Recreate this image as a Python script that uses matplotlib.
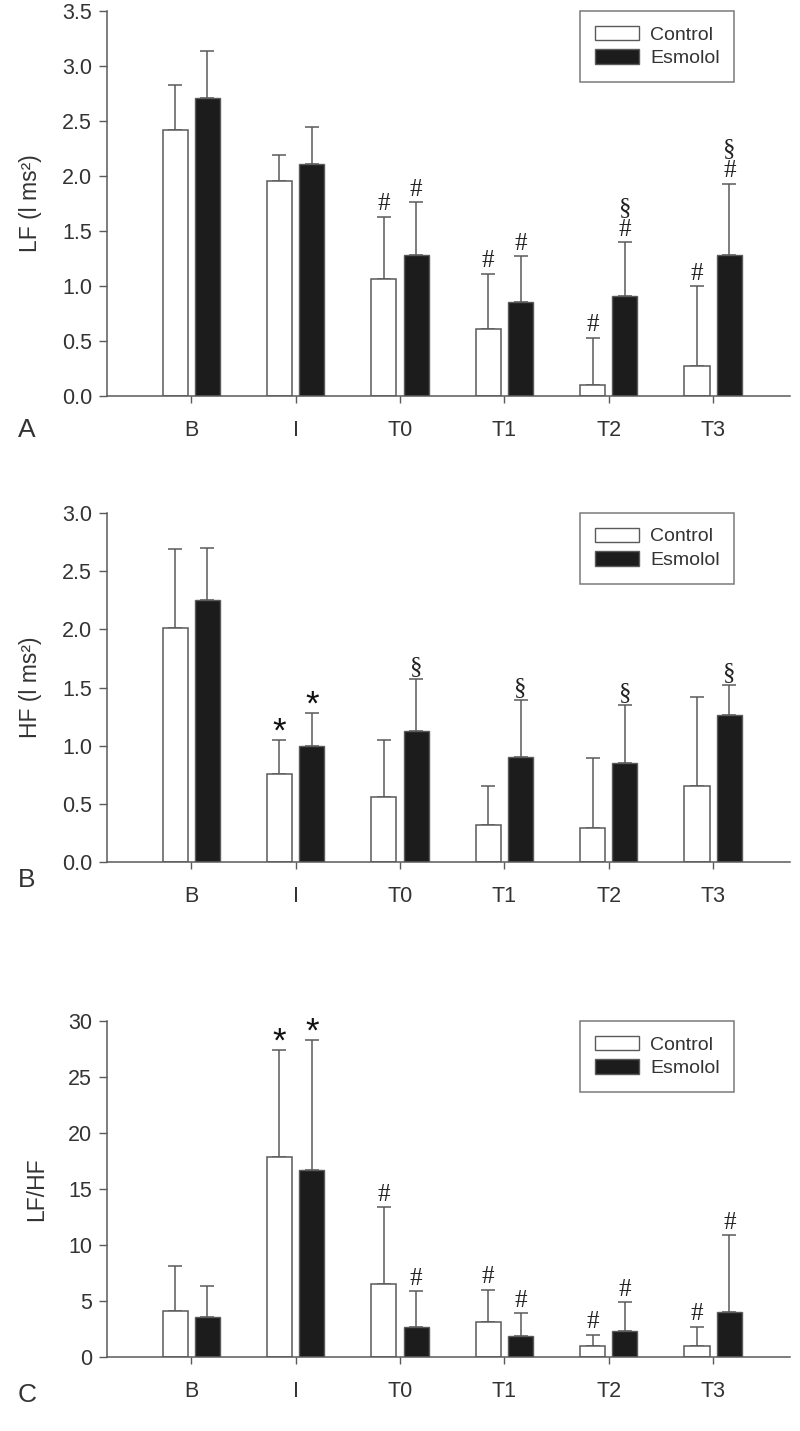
import matplotlib
matplotlib.use("Agg")
import matplotlib.pyplot as plt
from matplotlib.patches import Patch
import numpy as np

plt.rcParams['font.family'] = ['Liberation Sans', 'DejaVu Sans']

# categories (time points)
times = ['B', 'I', 'T0', 'T1', 'T2', 'T3']

# A: LF
lf_ctrl = [2.42, 1.95, 1.06, 0.61, 0.10, 0.27]
lf_ctrl_top = [2.83, 2.19, 1.63, 1.11, 0.53, 1.00]
lf_esm = [2.71, 2.11, 1.28, 0.85, 0.91, 1.28]
lf_esm_top = [3.14, 2.45, 1.76, 1.27, 1.40, 1.93]
lf_ctrl_marks = ['', '', '#', '#', '#', '#']
lf_esm_marks = ['', '', '#', '#', '§\n#', '§\n#']

# B: HF
hf_ctrl = [2.01, 0.76, 0.56, 0.32, 0.29, 0.65]
hf_ctrl_top = [2.69, 1.05, 1.05, 0.65, 0.89, 1.42]
hf_esm = [2.25, 1.00, 1.13, 0.90, 0.85, 1.26]
hf_esm_top = [2.70, 1.28, 1.57, 1.39, 1.35, 1.52]
hf_ctrl_marks = ['', '*', '', '', '', '']
hf_esm_marks = ['', '*', '§', '§', '§', '§']

# C: LF/HF
ratio_ctrl = [4.1, 17.9, 6.5, 3.1, 1.0, 1.0]
ratio_ctrl_top = [8.1, 27.4, 13.4, 6.0, 2.0, 2.7]
ratio_esm = [3.6, 16.7, 2.7, 1.9, 2.3, 4.0]
ratio_esm_top = [6.3, 28.3, 5.9, 3.9, 4.9, 10.9]
ratio_ctrl_marks = ['', '*', '#', '#', '#', '#']
ratio_esm_marks = ['', '*', '#', '#', '#', '#']

GRAY = '#5a5a5a'
TXT = '#333333'

fig = plt.figure(figsize=(8, 14.31), dpi=100)

panels = [
    # bottom, height, ymax, yticks, ylabel, letter, letter y, data..., tick format
    (0.7233, 0.2690, 3.5, np.arange(0, 3.51, 0.5), 'LF (l ms²)', 'A', 0.6995,
     lf_ctrl, lf_ctrl_top, lf_esm, lf_esm_top, lf_ctrl_marks, lf_esm_marks, '{:.1f}'),
    (0.3976, 0.2439, 3.0, np.arange(0, 3.01, 0.5), 'HF (l ms²)', 'B', 0.385,
     hf_ctrl, hf_ctrl_top, hf_esm, hf_esm_top, hf_ctrl_marks, hf_esm_marks, '{:.1f}'),
    (0.0517, 0.2348, 30, np.arange(0, 31, 5), 'LF/HF', 'C', 0.025,
     ratio_ctrl, ratio_ctrl_top, ratio_esm, ratio_esm_top, ratio_ctrl_marks, ratio_esm_marks, '{:.0f}'),
]

x = np.arange(len(times))
w = 0.24
off = 0.155

for (bot, h, ymax, yt, ylab, letter, ly, c, ct, e, et, cm, em, fmt) in panels:
    ax = fig.add_axes([0.134, bot, 0.854, h])
    c = np.array(c); e = np.array(e)
    ax.bar(x - off, c, w, color='white', edgecolor=GRAY, linewidth=1.1, zorder=2)
    ax.bar(x + off, e, w, color='#1c1c1c', edgecolor=GRAY, linewidth=1.0, zorder=2)
    # upper error bars only
    ax.errorbar(x - off, c, yerr=[np.zeros(len(c)), np.array(ct) - c], fmt='none',
                ecolor=GRAY, elinewidth=1.1, capsize=5, capthick=1.1, zorder=1)
    ax.errorbar(x + off, e, yerr=[np.zeros(len(e)), np.array(et) - e], fmt='none',
                ecolor=GRAY, elinewidth=1.1, capsize=5, capthick=1.1, zorder=1)
    for xs, tops, marks in [(x - off, ct, cm), (x + off, et, em)]:
        for xi, t, m in zip(xs, tops, marks):
            if not m:
                continue
            if m == '*':
                ax.annotate(m, (xi, t), xytext=(0, -6), textcoords='offset points',
                            ha='center', va='bottom', fontsize=25, color='#111111')
            else:
                ax.annotate(m, (xi, t), xytext=(0, 1), textcoords='offset points',
                            ha='center', va='bottom', fontsize=18, color='#222222',
                            family=['Liberation Serif', 'DejaVu Serif'], linespacing=1.0)
    ax.set_xlim(-0.805, 5.74)
    ax.set_ylim(0, ymax)
    ax.set_yticks(yt)
    ax.set_yticklabels([fmt.format(v) for v in yt])
    ax.set_xticks(x)
    ax.set_xticklabels(times)
    for s in ['top', 'right']:
        ax.spines[s].set_visible(False)
    for s in ['left', 'bottom']:
        ax.spines[s].set_color(GRAY)
        ax.spines[s].set_linewidth(1.1)
    ax.tick_params(axis='y', length=6, width=1, color=GRAY, labelsize=15.5, labelcolor=TXT, pad=5)
    ax.tick_params(axis='x', length=5, width=1, color=GRAY, labelsize=15.5, labelcolor=TXT, pad=12)
    ax.set_ylabel(ylab, fontsize=16.5, color=TXT, labelpad=14)
    handles = [Patch(facecolor='white', edgecolor=GRAY, linewidth=1.0, label='Control'),
               Patch(facecolor='#1c1c1c', edgecolor=GRAY, linewidth=1.0, label='Esmolol')]
    leg = ax.legend(handles=handles, loc='upper right', bbox_to_anchor=(0.918, 1.0),
                    borderaxespad=0, fontsize=14, frameon=True, fancybox=False,
                    handlelength=2.3, handleheight=0.75, borderpad=0.75,
                    labelspacing=0.3, handletextpad=0.55)
    leg.get_frame().set_edgecolor(GRAY)
    leg.get_frame().set_linewidth(1.1)
    for t in leg.get_texts():
        t.set_color(TXT)
    fig.text(0.022, ly, letter, fontsize=19, color=TXT, ha='left', va='center')

fig.savefig('out.png', dpi=100)
